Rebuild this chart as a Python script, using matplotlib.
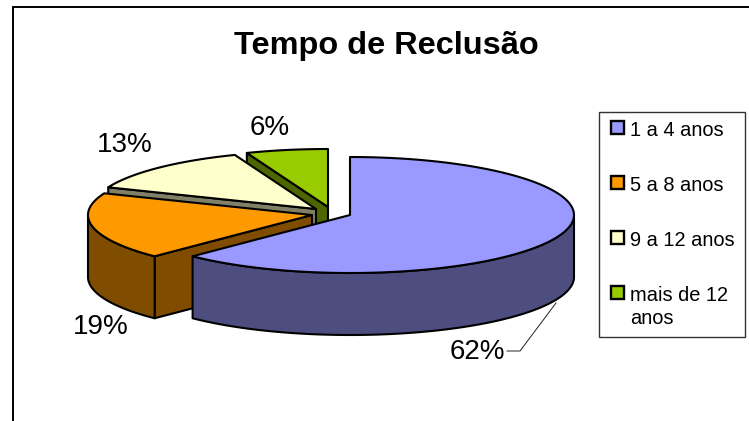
import numpy as np
import matplotlib
matplotlib.use('Agg')
import matplotlib.pyplot as plt
from matplotlib.patches import Polygon, Rectangle

labels = ['1 a 4 anos', '5 a 8 anos', '9 a 12 anos', 'mais de 12\nanos']
shares = [62.4, 18.7, 13.0, 5.9]
pct_labels = ['62%', '19%', '13%', '6%']
top_colors = ['#9999FF', '#FF9900', '#FFFFCC', '#99CC00']
wall_colors = ['#4D4D80', '#804D00', '#808066', '#4D6600']

# apex of every exploded slice, in pixels
apexes = [(350, 215), (312, 215), (316, 209), (328, 207)]
pct_pos = [(477, 352), (101, 327), (125, 145), (270, 128)]
legend_y = [128, 183, 238, 293]
RX, RY, DEPTH = 224, 58, 62
LW = 1.5

plt.rcParams['font.family'] = ['Liberation Sans', 'DejaVu Sans']


def rim(apex, t0, t1, drop=0):
    t = np.radians(np.linspace(t0, t1, 120))
    return np.column_stack([apex[0] + RX * np.sin(t), apex[1] - RY * np.cos(t) + drop])


def wall(ax, pts, color):
    ax.add_patch(Polygon(pts, closed=True, fc=color, ec='black', lw=LW, joinstyle='round'))


def extrude(pts):
    low = pts + np.array([0, DEPTH])
    return np.vstack([pts, low[::-1]])


def draw_slice(ax, apex, t0, t1, top, side):
    ends = rim(apex, t0, t1)
    # cut faces that look towards the viewer
    for ang, end in ((t0, ends[0]), (t1, ends[-1])):
        s = np.sin(np.radians(ang))
        if (ang == t0 and s < -1e-6) or (ang == t1 and s > 1e-6):
            wall(ax, extrude(np.array([apex, end])), side)
    # outer wall, front half of the ellipse only
    a, b = max(t0, 90), min(t1, 270)
    if a < b:
        wall(ax, extrude(rim(apex, a, b)), side)
    ax.add_patch(Polygon(np.vstack([[apex], ends]), closed=True, fc=top, ec='black',
                         lw=LW, joinstyle='round'))


fig = plt.figure(figsize=(7.49, 4.21), dpi=100)
ax = fig.add_axes([0, 0, 1, 1])
ax.set_xlim(0, 749)
ax.set_ylim(421, 0)
ax.axis('off')

# chart area border, runs off the picture on the right and at the bottom
ax.add_patch(Rectangle((12.5, 7), 800, 500, fc='white', ec='black', lw=1.4))

edges = np.cumsum([0] + shares) / sum(shares) * 360
for i in [3, 2, 1, 0]:
    draw_slice(ax, apexes[i], edges[i], edges[i + 1], top_colors[i], wall_colors[i])

for txt, pos in zip(pct_labels, pct_pos):
    ax.text(pos[0], pos[1], txt, fontsize=20, ha='center', va='center', color='black')

ax.plot([507, 520, 556], [351, 351, 303], color='#222222', lw=0.7)

ax.text(386, 46, 'Tempo de Reclusão', fontsize=23.4, fontweight='bold', ha='center', va='center')

# legend
ax.add_patch(Rectangle((598.5, 112), 146.5, 224.5, fc='white', ec='#333333', lw=1.0))
for lab, col, y in zip(labels, top_colors, legend_y):
    ax.add_patch(Rectangle((611, y - 7), 13, 13, fc=col, ec='black', lw=1.7))
    ax.text(630, y - 7, lab, fontsize=14.4, ha='left', va='top', linespacing=1.3)

fig.savefig('out.png', dpi=100)
